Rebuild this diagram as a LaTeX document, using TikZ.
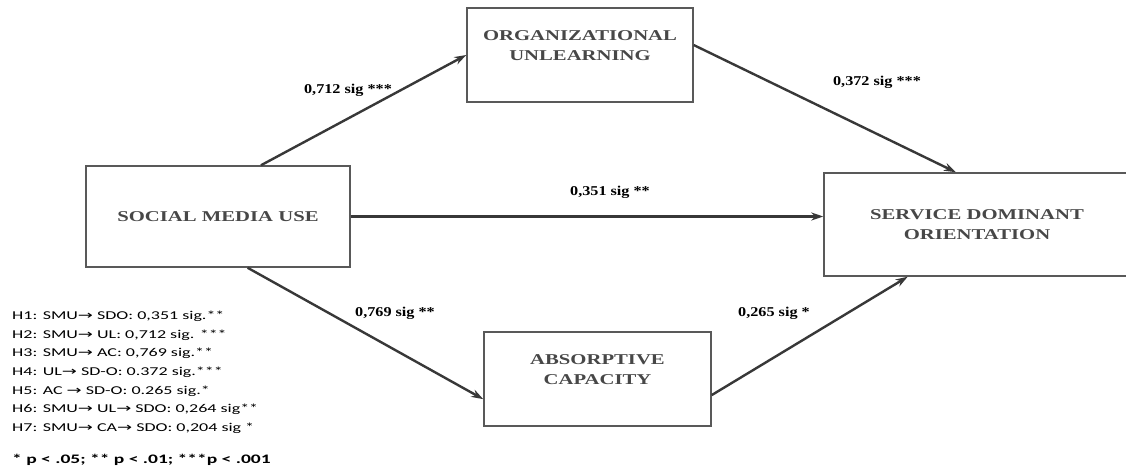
\documentclass[tikz,border=0pt]{standalone}
\usepackage{fontspec}
\setmainfont{Liberation Serif}
\newfontfamily\boxfont[FakeStretch=1.38]{Liberation Serif}
\newfontfamily\coeffont[FakeStretch=1.2]{Liberation Serif}
\newfontfamily\legendfont[FakeStretch=1.5]{Carlito}
\newfontfamily\arrowfont[FakeStretch=1.5]{DejaVu Sans}
\usetikzlibrary{arrows.meta,positioning}

\newcommand{\ra}{{\arrowfont →}}

\tikzset{
  varbox/.style={draw=black!65, line width=1.5pt, text=black!72,
    font=\boxfont\fontsize{15}{20}\selectfont\bfseries, align=center},
  effect/.style={-{Stealth[length=12pt,width=8pt]}, line width=2.4pt, draw=black!78},
  coef/.style={font=\coeffont\fontsize{13.5}{16}\selectfont\bfseries, text=black}
}

\begin{document}
\begin{tikzpicture}[x=1pt, y=-1pt]
    \useasboundingbox (0,0) rectangle (1126,468);
    \clip (0,0) rectangle (1126,468);

    % Constructs
    \node[varbox, minimum width=264pt, minimum height=101pt] (smu) at (218,216.5) {SOCIAL MEDIA USE};
    \node[varbox, minimum width=226pt, minimum height=94pt] (ou) at (580,55) {ORGANIZATIONAL\\UNLEARNING\\[-2pt]\mbox{}};
    \node[varbox, minimum width=227pt, minimum height=94pt] (ac) at (597.5,379) {ABSORPTIVE\\CAPACITY\\[-2pt]\mbox{}};
    \node[varbox, minimum width=306pt, minimum height=103pt] (sdo) at (977,224.5) {SERVICE DOMINANT\\ORIENTATION};

    % Paths
    \draw[effect] (smu.50) -- (ou.west);
    \draw[effect] (ou.5) -- (sdo.112);
    \draw[effect] (smu.east) -- (smu.east -| sdo.west);
    \draw[effect] (smu.-60) -- (ac.190);
    \draw[effect] (ac.-8) -- (sdo.217);

    % Coefficients
    \node[coef] (c712) at (348,90) {0,712 sig ***};
    \node[coef] (c372) at (877,82) {0,372 sig ***};
    \node[coef] (c351) at (610,192) {0,351 sig **};
    \node[coef] (c769) at (395,313) {0,769 sig **};
    \node[coef] (c265) at (774,313) {0,265 sig *};

    % Hypotheses
    \node[anchor=north west, align=left, inner sep=0pt,
          font=\legendfont\fontsize{12}{18.6}\selectfont] (hyp) at (12,311)
      {H1: SMU\ra\ SDO: 0,351 sig.**\\
       H2: SMU\ra\ UL: 0,712 sig. ***\\
       H3: SMU\ra\ AC: 0,769 sig.**\\
       H4: UL\ra\ SD-O: 0.372 sig.***\\
       H5: AC \ra\ SD-O: 0.265 sig.*\\
       H6: SMU\ra\ UL\ra\ SDO: 0,264 sig**\\
       H7: SMU\ra\ CA\ra\ SDO: 0,204 sig *};
    \node[below right=20pt and 0pt of hyp.south west, inner sep=0pt,
          font=\legendfont\bfseries\fontsize{13}{16}\selectfont] (pval)
      {* p < .05; ** p < .01; ***p < .001};
\end{tikzpicture}
\end{document}
